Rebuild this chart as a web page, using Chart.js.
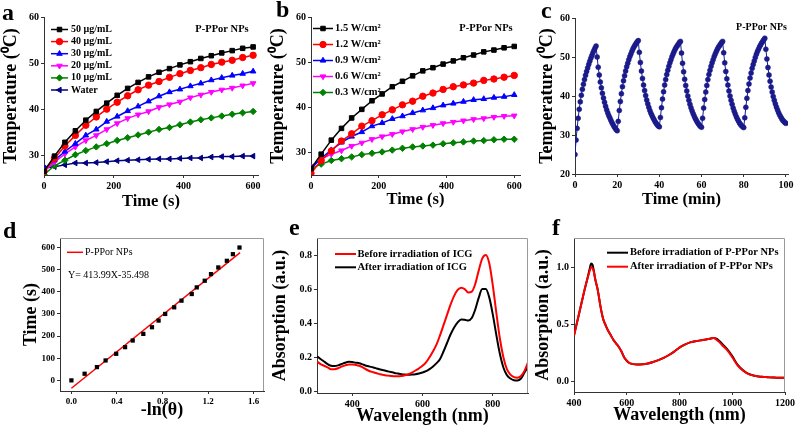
<!DOCTYPE html>
<html>
<head>
<meta charset="utf-8">
<script src="https://cdn.jsdelivr.net/npm/chart.js@4.4.1/dist/chart.umd.min.js"></script>
<style>
  body { margin: 0; background: #fff; }
  #wrap { position: relative; width: 797px; height: 430px; overflow: hidden; background: #fff; }
  canvas { position: absolute; }
</style>
</head>
<body>
<div id="wrap">
  <canvas id="ca" width="265" height="215" style="left:0;top:0"></canvas>
  <canvas id="cb" width="265" height="215" style="left:265px;top:0"></canvas>
  <canvas id="cc" width="267" height="215" style="left:530px;top:0"></canvas>
  <canvas id="cd" width="268" height="215" style="left:0;top:215px"></canvas>
  <canvas id="ce" width="265" height="215" style="left:265px;top:215px"></canvas>
  <canvas id="cf" width="267" height="215" style="left:530px;top:215px"></canvas>
</div>
<script>
// ---- data ----
const timeS = [0, 30, 60, 90, 120, 150, 180, 210, 240, 270, 300, 330, 360, 390, 420, 450, 480, 510, 540, 570, 600];

// a: concentration series
const concLabels = ["50 μg/mL", "40 μg/mL", "30 μg/mL", "20 μg/mL", "10 μg/mL", "Water"];
const a50 = [26.5, 29.8, 32.8, 35.3, 37.6, 39.5, 41.3, 43.0, 44.5, 45.8, 47.0, 48.0, 48.8, 49.6, 50.3, 51.0, 51.6, 52.2, 52.7, 53.2, 53.5];
const a40 = [26.5, 29.3, 32.0, 34.3, 36.5, 38.3, 40.0, 41.5, 42.9, 44.2, 45.2, 46.0, 46.9, 47.7, 48.4, 49.0, 49.7, 50.2, 50.6, 51.2, 51.7];
const a30 = [27.0, 28.9, 30.8, 32.5, 34.3, 35.6, 37.3, 38.4, 39.6, 40.6, 41.7, 42.8, 43.7, 44.3, 45.0, 45.6, 46.3, 46.8, 47.3, 47.7, 48.2];
const a20 = [26.5, 28.5, 30.3, 31.8, 33.2, 34.3, 35.6, 36.9, 38.0, 38.8, 39.5, 40.4, 41.0, 41.6, 42.5, 43.1, 43.7, 44.2, 44.6, 45.1, 45.6];
const a10 = [25.8, 27.7, 28.9, 30.1, 31.0, 31.8, 32.5, 33.2, 33.8, 34.4, 35.0, 35.6, 36.0, 36.6, 37.2, 37.7, 38.1, 38.5, 38.9, 39.2, 39.5];
const aWater = [27.2, 27.5, 27.9, 28.3, 28.3, 28.4, 28.6, 28.8, 28.9, 29.0, 29.1, 29.2, 29.2, 29.3, 29.4, 29.4, 29.6, 29.7, 29.7, 29.8, 29.8];

// b: power density series
const powerLabels = ["1.5 W/cm²", "1.2 W/cm²", "0.9 W/cm²", "0.6 W/cm²", "0.3 W/cm²"];
const b15 = [26.5, 29.7, 32.8, 35.4, 37.7, 39.6, 41.5, 43.0, 44.6, 45.8, 47.0, 48.1, 48.8, 49.6, 50.3, 51.0, 51.6, 52.3, 52.7, 53.2, 53.5];
const b12 = [25.5, 28.3, 30.4, 32.6, 34.2, 35.9, 37.1, 38.4, 39.5, 40.6, 41.4, 42.5, 43.2, 44.0, 44.6, 45.0, 45.4, 46.0, 46.3, 46.7, 47.1];
const b09 = [26.5, 28.8, 30.6, 32.3, 33.6, 34.6, 35.9, 36.6, 37.5, 38.1, 38.8, 39.4, 39.9, 40.5, 40.9, 41.3, 41.7, 41.9, 42.2, 42.4, 42.8];
const b06 = [27.0, 28.6, 29.7, 30.5, 31.5, 32.2, 33.0, 33.6, 34.1, 34.7, 35.2, 35.7, 36.1, 36.5, 36.8, 37.1, 37.4, 37.6, 37.9, 38.1, 38.2];
const b03 = [26.5, 27.5, 28.3, 28.7, 29.1, 29.6, 29.9, 30.2, 30.6, 31.0, 31.3, 31.5, 31.7, 32.0, 32.2, 32.4, 32.6, 32.7, 32.9, 33.0, 33.0];

// c: on/off cycles (min, °C)
const cTime = [
  0, 0.5, 1, 1.5, 2, 2.5, 3, 3.5, 4, 4.5, 5, 5.5, 6, 6.5, 7, 7.5, 8, 8.5, 9, 9.5,
  10, 10.5, 11, 11.5, 12, 12.5, 13, 13.5, 14, 14.5, 15, 15.5, 16, 16.5, 17, 17.5, 18, 18.5, 19, 19.5,
  20, 20.5, 21, 21.5, 22, 22.5, 23, 23.5, 24, 24.5, 25, 25.5, 26, 26.5, 27, 27.5, 28, 28.5, 29, 29.5,
  30, 30.5, 31, 31.5, 32, 32.5, 33, 33.5, 34, 34.5, 35, 35.5, 36, 36.5, 37, 37.5, 38, 38.5, 39, 39.5,
  40, 40.5, 41, 41.5, 42, 42.5, 43, 43.5, 44, 44.5, 45, 45.5, 46, 46.5, 47, 47.5, 48, 48.5, 49, 49.5,
  50, 50.5, 51, 51.5, 52, 52.5, 53, 53.5, 54, 54.5, 55, 55.5, 56, 56.5, 57, 57.5, 58, 58.5, 59, 59.5,
  60, 60.5, 61, 61.5, 62, 62.5, 63, 63.5, 64, 64.5, 65, 65.5, 66, 66.5, 67, 67.5, 68, 68.5, 69, 69.5,
  70, 70.5, 71, 71.5, 72, 72.5, 73, 73.5, 74, 74.5, 75, 75.5, 76, 76.5, 77, 77.5, 78, 78.5, 79, 79.5,
  80, 80.5, 81, 81.5, 82, 82.5, 83, 83.5, 84, 84.5, 85, 85.5, 86, 86.5, 87, 87.5, 88, 88.5, 89, 89.5,
  90, 90.5, 91, 91.5, 92, 92.5, 93, 93.5, 94, 94.5, 95, 95.5, 96, 96.5, 97, 97.5, 98, 98.5, 99, 99.5,
  100
];
const cTemp = [
  25.0, 28.7, 31.7, 34.3, 36.6, 38.5, 40.2, 41.7, 43.0, 44.2, 45.3, 46.3, 47.2, 48.1, 48.9, 49.7, 50.4, 51.1, 51.7, 52.3,
  52.8, 50.0, 47.4, 45.4, 43.6, 42.1, 40.7, 39.5, 38.4, 37.4, 36.5, 35.7, 35.0, 34.4, 33.8, 33.2, 32.7, 32.2, 31.8, 31.4,
  31.1, 33.5, 36.3, 38.6, 40.6, 42.4, 43.9, 45.2, 46.4, 47.5, 48.4, 49.3, 50.1, 50.8, 51.5, 52.1, 52.6, 53.1, 53.5, 53.9,
  54.2, 51.2, 48.6, 46.4, 44.5, 42.8, 41.4, 40.1, 39.0, 38.0, 37.1, 36.3, 35.6, 35.0, 34.4, 33.9, 33.4, 33.0, 32.6, 32.3,
  32.1, 34.5, 37.0, 39.2, 41.1, 42.8, 44.2, 45.5, 46.6, 47.6, 48.5, 49.3, 50.1, 50.8, 51.4, 52.0, 52.5, 52.9, 53.3, 53.7,
  54.0, 51.0, 48.4, 46.2, 44.3, 42.7, 41.3, 40.0, 38.9, 37.9, 37.0, 36.2, 35.5, 34.9, 34.3, 33.8, 33.3, 32.9, 32.5, 32.2,
  32.0, 34.3, 36.9, 39.1, 41.0, 42.7, 44.2, 45.5, 46.6, 47.6, 48.5, 49.3, 50.1, 50.8, 51.4, 52.0, 52.5, 52.9, 53.3, 53.7,
  54.0, 51.1, 48.5, 46.3, 44.4, 42.8, 41.3, 40.0, 38.9, 37.9, 36.9, 36.1, 35.4, 34.7, 34.1, 33.6, 33.1, 32.7, 32.4, 32.1,
  31.9, 34.4, 37.1, 39.4, 41.4, 43.1, 44.6, 45.9, 47.1, 48.1, 49.0, 49.9, 50.7, 51.4, 52.0, 52.6, 53.1, 53.6, 54.0, 54.4,
  54.8, 52.0, 49.5, 47.3, 45.4, 43.8, 42.3, 41.0, 39.9, 38.9, 38.0, 37.2, 36.5, 35.8, 35.2, 34.7, 34.2, 33.8, 33.5, 33.2,
  33.0
];

// d: -ln(theta) vs time, with the linear fit
const dLnTheta = [0, 0.116, 0.224, 0.30, 0.393, 0.471, 0.538, 0.631, 0.707, 0.765, 0.823, 0.902, 0.966, 1.056, 1.10, 1.17, 1.225, 1.289, 1.364, 1.417, 1.475];
const dTime = [0, 30, 60, 90, 120, 150, 180, 210, 240, 270, 300, 330, 360, 390, 420, 450, 480, 510, 540, 570, 600];
const fitX = [0, 1.48];
const fitY = [-35.5, 577.2];

// e: ICG spectra
const wlE = [300, 310, 320, 330, 340, 350, 360, 370, 380, 390, 400, 410, 420, 430, 440, 450, 460, 470, 480, 490,
  500, 510, 520, 530, 540, 550, 560, 570, 580, 590, 600, 610, 620, 630, 640, 650, 660, 670, 680, 690,
  700, 710, 720, 730, 740, 750, 760, 770, 780, 790, 800, 810, 820, 830, 840, 850, 860, 870, 880, 890, 900];
const eBefore = [0.175, 0.16, 0.15, 0.14, 0.13, 0.13, 0.135, 0.145, 0.152, 0.158, 0.158, 0.155, 0.15, 0.14, 0.128, 0.118, 0.112, 0.106, 0.10, 0.096,
  0.092, 0.09, 0.088, 0.088, 0.09, 0.094, 0.10, 0.11, 0.122, 0.135, 0.15, 0.17, 0.20, 0.235, 0.275, 0.33, 0.39, 0.45, 0.51, 0.56,
  0.595, 0.608, 0.60, 0.58, 0.585, 0.63, 0.71, 0.78, 0.80, 0.75, 0.62, 0.46, 0.31, 0.20, 0.13, 0.098, 0.083, 0.08, 0.09, 0.12, 0.17];
const eAfter = [0.205, 0.19, 0.175, 0.16, 0.15, 0.148, 0.152, 0.16, 0.168, 0.173, 0.172, 0.168, 0.165, 0.158, 0.15, 0.145, 0.14, 0.134, 0.128, 0.123,
  0.118, 0.113, 0.108, 0.104, 0.10, 0.098, 0.097, 0.098, 0.10, 0.104, 0.11, 0.118, 0.13, 0.145, 0.165, 0.19, 0.235, 0.285, 0.335, 0.375,
  0.405, 0.422, 0.42, 0.415, 0.43, 0.48, 0.55, 0.60, 0.60, 0.55, 0.45, 0.33, 0.22, 0.14, 0.095, 0.075, 0.065, 0.063, 0.075, 0.11, 0.145];

// f: P-PPor NPs spectra
const wlF = [400, 410, 420, 430, 440, 450, 460, 465, 470, 475, 480, 490, 500, 510, 520, 530, 540, 550, 560, 570,
  580, 590, 600, 610, 620, 640, 660, 680, 700, 720, 740, 760, 780, 800, 820, 840, 860, 880, 900, 920,
  930, 940, 950, 960, 980, 1000, 1020, 1040, 1060, 1080, 1100, 1120, 1140, 1160, 1180, 1200];
const fBefore = [0.40, 0.50, 0.60, 0.70, 0.80, 0.89, 0.99, 1.03, 1.02, 0.97, 0.90, 0.80, 0.66, 0.55, 0.49, 0.44, 0.40, 0.36, 0.33, 0.30,
  0.26, 0.21, 0.18, 0.16, 0.152, 0.146, 0.148, 0.155, 0.168, 0.185, 0.205, 0.23, 0.26, 0.295, 0.32, 0.34, 0.35, 0.358, 0.365, 0.375,
  0.378, 0.372, 0.355, 0.332, 0.283, 0.22, 0.145, 0.098, 0.067, 0.051, 0.042, 0.038, 0.034, 0.032, 0.03, 0.03];
const fAfter = [0.40, 0.50, 0.60, 0.70, 0.80, 0.89, 0.97, 1.00, 0.99, 0.96, 0.90, 0.80, 0.66, 0.55, 0.49, 0.44, 0.40, 0.36, 0.33, 0.30,
  0.26, 0.21, 0.18, 0.16, 0.152, 0.146, 0.148, 0.155, 0.168, 0.185, 0.205, 0.23, 0.26, 0.295, 0.32, 0.34, 0.35, 0.358, 0.365, 0.375,
  0.378, 0.365, 0.345, 0.32, 0.275, 0.21, 0.14, 0.095, 0.065, 0.05, 0.042, 0.038, 0.034, 0.032, 0.03, 0.03];

// tick values
const ticksTempA = [30, 40, 50, 60];
const ticksTempC = [20, 30, 40, 50, 60];
const ticksTimeS = [0, 200, 400, 600];
const ticksTimeMin = [0, 20, 40, 60, 80, 100];
const ticksLnX = [0, 0.4, 0.8, 1.2, 1.6];
const ticksTimeD = [0, 100, 200, 300, 400, 500, 600];
const ticksWlE = [400, 600, 800];
const ticksAbsE = [0, 0.2, 0.4, 0.6, 0.8];
const ticksWlF = [400, 600, 800, 1000, 1200];
const ticksAbsF = [0, 0.5, 1.0];

// ---- drawing ----
const FAMILY = '"Liberation Serif", "Times New Roman", serif';
Chart.defaults.font.family = FAMILY;
Chart.defaults.color = "#000";

const pts = (xs, ys) => xs.map((x, i) => ({ x: x, y: ys[i] }));

function axis(min, max, ticks, o) {
  return {
    type: "linear",
    min: min,
    max: max,
    afterBuildTicks: s => { s.ticks = ticks.map(v => ({ value: v })); },
    afterFit: s => {
      if (s.isHorizontal()) s.height = o.size; else s.width = o.size;
    },
    ticks: {
      font: { size: o.tick || 10, weight: "bold" },
      color: "#000",
      padding: 2,
      autoSkip: false,
      maxRotation: 0,
      callback: v => Number(v).toFixed(o.dec || 0)
    },
    grid: { drawOnChartArea: false, tickLength: 3, color: "#333" },
    border: { display: true, color: "#333", width: 1 },
    title: {
      display: true,
      text: o.title,
      color: "#000",
      font: { size: o.ts || 18, weight: "bold" },
      padding: { top: o.tp || 0, bottom: o.tp || 0 }
    }
  };
}

function series(label, xs, ys, color, style, rot) {
  return {
    label: label,
    data: pts(xs, ys),
    borderColor: color,
    backgroundColor: color,
    borderWidth: 1.5,
    pointStyle: style,
    pointRotation: rot || 0,
    pointRadius: 3.2,
    pointBorderWidth: 1,
    tension: 0
  };
}

const decor = {
  id: "decor",
  afterDraw(chart, args, o) {
    const ctx = chart.ctx;
    const a = chart.chartArea;
    ctx.save();
    if (o.frame) {
      ctx.strokeStyle = "#9a9a9a";
      ctx.lineWidth = 1;
      ctx.beginPath();
      ctx.moveTo(a.left, Math.round(a.top) + 0.5);
      ctx.lineTo(Math.round(a.right) - 0.5, Math.round(a.top) + 0.5);
      ctx.lineTo(Math.round(a.right) - 0.5, a.bottom);
      ctx.stroke();
    }
    ctx.fillStyle = "#000";
    ctx.textAlign = "left";
    ctx.textBaseline = "alphabetic";
    ctx.font = "bold 24px " + FAMILY;
    ctx.fillText(o.letter, o.lx, o.ly);

    const lg = o.legend;
    if (lg) {
      lg.items.forEach((di, i) => {
        const ds = chart.data.datasets[di];
        const y = lg.y0 + i * lg.dy;
        ctx.strokeStyle = ds.borderColor;
        ctx.lineWidth = lg.lw || ds.borderWidth;
        ctx.beginPath();
        ctx.moveTo(lg.x0, y);
        ctx.lineTo(lg.x1, y);
        ctx.stroke();
        if (ds.pointRadius > 0 && Chart.helpers && Chart.helpers.drawPoint) {
          ctx.fillStyle = ds.backgroundColor;
          ctx.lineWidth = 1;
          Chart.helpers.drawPoint(ctx, {
            pointStyle: ds.pointStyle, rotation: ds.pointRotation || 0,
            radius: ds.pointRadius, borderWidth: 1
          }, (lg.x0 + lg.x1) / 2, y);
        }
        ctx.fillStyle = "#000";
        ctx.font = lg.font;
        ctx.textAlign = "left";
        ctx.textBaseline = "middle";
        ctx.fillText(ds.label, lg.tx, y);
      });
    }
    (o.notes || []).forEach(n => {
      ctx.fillStyle = "#000";
      ctx.font = n.font;
      ctx.textAlign = n.align || "left";
      ctx.textBaseline = "middle";
      ctx.fillText(n.text, n.x, n.y);
    });
    ctx.restore();
  }
};

function makeChart(id, datasets, scales, pad, deco) {
  return new Chart(document.getElementById(id), {
    type: "line",
    data: { datasets: datasets },
    options: {
      responsive: false,
      maintainAspectRatio: false,
      animation: false,
      layout: { padding: pad },
      scales: scales,
      plugins: { legend: { display: false }, tooltip: { enabled: false }, decor: deco }
    },
    plugins: [decor]
  });
}

const noteFont = "bold 10.5px " + FAMILY;
const legFont = "bold 10px " + FAMILY;

// a
makeChart("ca", [
  series(concLabels[0], timeS, a50, "#000000", "rect"),
  series(concLabels[1], timeS, a40, "#ff0000", "circle"),
  series(concLabels[2], timeS, a30, "#0000ff", "triangle"),
  series(concLabels[3], timeS, a20, "#ff00ff", "triangle", 180),
  series(concLabels[4], timeS, a10, "#008000", "rectRot"),
  series(concLabels[5], timeS, aWater, "#000080", "triangle", 270)
], {
  x: axis(0, 614, ticksTimeS, { size: 40, title: "Time (s)", ts: 16.5, tp: 3.4 }),
  y: axis(25.7, 60, ticksTempA, { size: 44, title: "Temperature (⁰C)", tp: 1 })
}, { top: 17, right: 7, left: 0, bottom: 0 }, {
  letter: "a", lx: 2, ly: 20,
  legend: { x0: 51, x1: 68, tx: 71, y0: 29.5, dy: 12.1, font: legFont, items: [0, 1, 2, 3, 4, 5] },
  notes: [{ text: "P-PPor NPs", x: 222, y: 29, align: "center", font: noteFont }]
});

// b
makeChart("cb", [
  series(powerLabels[0], timeS, b15, "#000000", "rect"),
  series(powerLabels[1], timeS, b12, "#ff0000", "circle"),
  series(powerLabels[2], timeS, b09, "#0000ff", "triangle"),
  series(powerLabels[3], timeS, b06, "#ff00ff", "triangle", 180),
  series(powerLabels[4], timeS, b03, "#008000", "rectRot")
], {
  x: axis(0, 617, ticksTimeS, { size: 40, title: "Time (s)", ts: 16.5, tp: 5.8 }),
  y: axis(25.1, 60, ticksTempA, { size: 46, title: "Temperature (⁰C)", tp: 2.5 })
}, { top: 17, right: 10, left: 0, bottom: 0 }, {
  letter: "b", lx: 11, ly: 17,
  legend: { x0: 48, x1: 68, tx: 70, y0: 28.5, dy: 16, font: "bold 10.5px " + FAMILY, items: [0, 1, 2, 3, 4] },
  notes: [{ text: "P-PPor NPs", x: 221, y: 28, align: "center", font: noteFont }]
});

// c
makeChart("cc", [{
  label: "P-PPor NPs",
  data: pts(cTime, cTemp),
  borderColor: "#1a1a8a",
  backgroundColor: "#1a1a8a",
  borderWidth: 1,
  pointStyle: "circle",
  pointRadius: 2.5,
  pointBorderWidth: 0.5,
  tension: 0
}], {
  x: axis(0, 101, ticksTimeMin, { size: 41, title: "Time (min)", ts: 16.5, tp: 5.1 }),
  y: axis(20, 60, ticksTempC, { size: 45, title: "Temperature (⁰C)", tp: 7 })
}, { top: 18, right: 9, left: 0, bottom: 0 }, {
  letter: "c", lx: 11, ly: 18,
  notes: [{ text: "P-PPor NPs", x: 231.5, y: 27.7, align: "center", font: "bold 10px " + FAMILY }]
});

// d
makeChart("cd", [{
  label: "data",
  data: pts(dLnTheta, dTime),
  showLine: false,
  borderColor: "#000",
  backgroundColor: "#000",
  pointStyle: "rect",
  pointRadius: 3,
  pointBorderWidth: 0
}, {
  label: "P-PPor NPs",
  data: pts(fitX, fitY),
  borderColor: "#ff0000",
  backgroundColor: "#ff0000",
  borderWidth: 1.5,
  pointRadius: 0
}], {
  x: axis(-0.1, 1.69, ticksLnX, { size: 39, title: "-ln(θ)", tp: 9, dec: 1, tick: 9 }),
  y: axis(-48, 643, ticksTimeD, { size: 60, title: "Time (s)", tp: 21, tick: 9 })
}, { top: 23, right: 3, left: 0, bottom: 0 }, {
  letter: "d", lx: 3, ly: 23, frame: true,
  legend: { x0: 67, x1: 83, tx: 85, y0: 37.3, dy: 0, font: "10px " + FAMILY, items: [1] },
  notes: [{ text: "Y= 413.99X-35.498", x: 68, y: 60, font: "10px " + FAMILY }]
});

// e
makeChart("ce", [{
  label: "Before irradiation of ICG",
  data: pts(wlE, eBefore),
  borderColor: "#ff0000",
  borderWidth: 2,
  pointRadius: 0,
  cubicInterpolationMode: "monotone"
}, {
  label: "After irradiation of ICG",
  data: pts(wlE, eAfter),
  borderColor: "#000000",
  borderWidth: 2,
  pointRadius: 0,
  cubicInterpolationMode: "monotone"
}], {
  x: axis(300, 900, ticksWlE, { size: 37, title: "Wavelength (nm)", tp: 3 }),
  y: axis(-0.01, 0.9, ticksAbsE, { size: 52, title: "Absorption (a.u.)", tp: 5, dec: 1 })
}, { top: 23, right: 2, left: 0, bottom: 0 }, {
  letter: "e", lx: 24, ly: 20, frame: true,
  legend: { x0: 70, x1: 91, tx: 92.5, y0: 39, dy: 13.3, font: "bold 10.5px " + FAMILY, items: [0, 1] }
});

// f
makeChart("cf", [{
  label: "Before irradiation of P-PPor NPs",
  data: pts(wlF, fBefore),
  borderColor: "#000000",
  borderWidth: 2,
  pointRadius: 0,
  order: 1,
  cubicInterpolationMode: "monotone"
}, {
  label: "After irradiation of P-PPor NPs",
  data: pts(wlF, fAfter),
  borderColor: "#ff0000",
  borderWidth: 2,
  pointRadius: 0,
  order: 0,
  cubicInterpolationMode: "monotone"
}], {
  x: axis(400, 1200, ticksWlF, { size: 38, title: "Wavelength (nm)", tp: 3.5 }),
  y: axis(-0.094, 1.254, ticksAbsF, { size: 44, title: "Absorption (a.u.)", tp: 3, dec: 1 })
}, { top: 23, right: 12, left: 0, bottom: 0 }, {
  letter: "f", lx: 22, ly: 20, frame: true,
  legend: { x0: 77, x1: 98, tx: 100, y0: 37.7, dy: 14, font: "bold 10.5px " + FAMILY, items: [0, 1] }
});
</script>
</body>
</html>
